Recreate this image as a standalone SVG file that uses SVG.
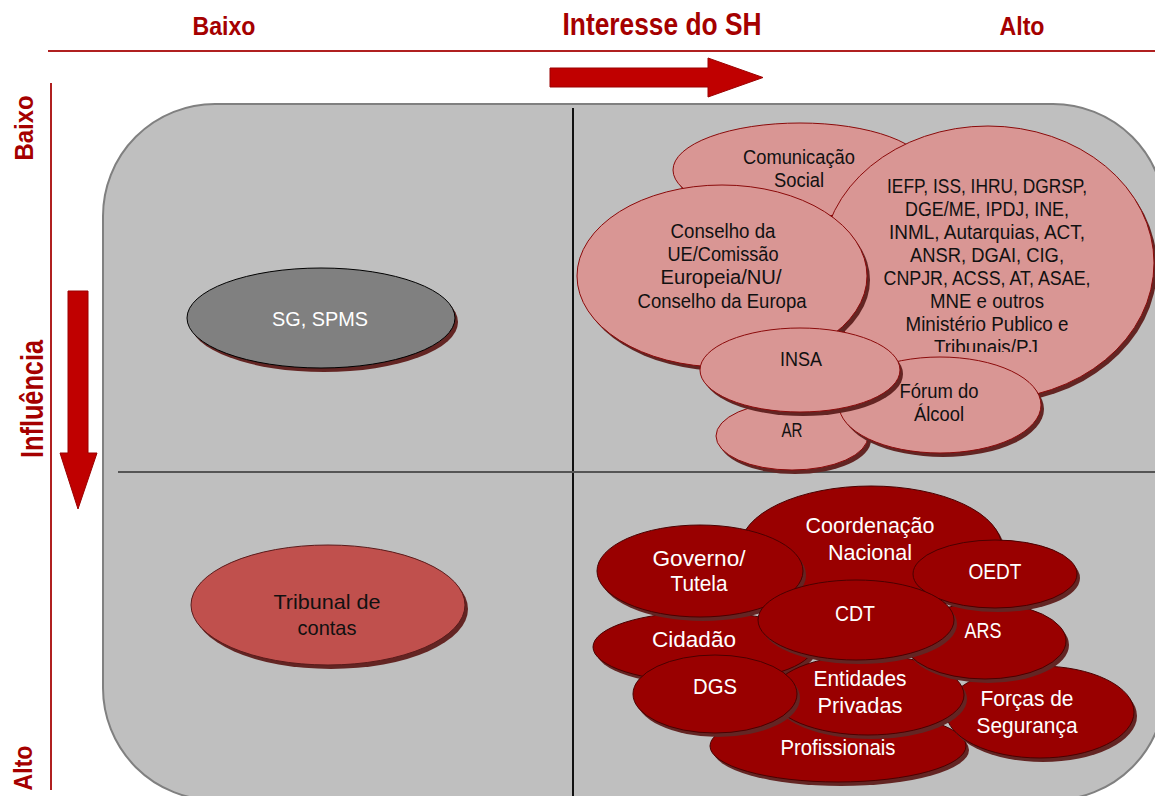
<svg xmlns="http://www.w3.org/2000/svg" width="1155" height="796" viewBox="0 0 1155 796">
  <style>
    text { font-family: "Liberation Sans", Arial, sans-serif; }
    .hdr { fill: #A50000; font-weight: bold; }
    .axis { stroke: #B02020; stroke-width: 2; fill: none; }
    .big-arrow { fill: #C00000; stroke: #9B0000; stroke-width: 1; }
    .sh { fill: #632523; }
    .pk { fill: #D99694; stroke: #8B0A0A; stroke-width: 1; }
    .dk { fill: #990000; stroke: #4A0000; stroke-width: 1; }
    .tb { fill: #C0504D; stroke: #5A1A1A; stroke-width: 1; }
    .gr { fill: #808080; stroke: #000; stroke-width: 1; }
    .tk { fill: #111; font-size: 20.5px; text-anchor: middle; }
    .tw { fill: #fff; font-size: 22.5px; text-anchor: middle; }
  </style>
  <defs>
    <clipPath id="iefpClip">
      <rect x="820" y="120" width="340" height="232"/>
    </clipPath>
  </defs>

  <!-- header and axis labels -->
  <g id="header">
    <text class="hdr" x="224" y="35" font-size="25" text-anchor="middle" textLength="63" lengthAdjust="spacingAndGlyphs">Baixo</text>
    <text class="hdr" x="662" y="35" font-size="31" text-anchor="middle" textLength="199" lengthAdjust="spacingAndGlyphs">Interesse do SH</text>
    <text class="hdr" x="1022" y="35" font-size="25" text-anchor="middle" textLength="45" lengthAdjust="spacingAndGlyphs">Alto</text>
    <text class="hdr" transform="translate(33,128) rotate(-90)" font-size="25" text-anchor="middle" textLength="65" lengthAdjust="spacingAndGlyphs">Baixo</text>
    <text class="hdr" transform="translate(43,399) rotate(-90)" font-size="31" text-anchor="middle" textLength="118" lengthAdjust="spacingAndGlyphs">Influência</text>
    <text class="hdr" transform="translate(32,768) rotate(-90)" font-size="25" text-anchor="middle" textLength="45" lengthAdjust="spacingAndGlyphs">Alto</text>
  </g>

  <!-- background panel -->
  <path id="panel" d="M103,216 A112,112 0 0 1 215,104 H1053 A112,112 0 0 1 1165,216 V688 A112,112 0 0 1 1053,800 H215 A112,112 0 0 1 103,688 Z" fill="#BFBFBF" stroke="#808080" stroke-width="2"/>

  <!-- axes, quadrant dividers and direction arrows -->
  <g id="connectors">
    <line class="axis" x1="48" y1="51" x2="1155" y2="51"/>
    <line class="axis" x1="51" y1="83" x2="51" y2="790"/>
    <line x1="573" y1="108" x2="573" y2="796" stroke="#111" stroke-width="2"/>
    <line x1="118" y1="472" x2="1155" y2="472" stroke="#555" stroke-width="2"/>
    <path class="big-arrow" d="M550,68 H708 V58 L763,77.5 L708,97 V87 H550 Z"/>
    <path class="big-arrow" d="M68,291 H88 V453 H97 L78,509 L60,453 H68 Z"/>
  </g>

  <!-- low interest / low influence -->
  <g id="sg-spms">
    <ellipse class="sh" cx="324" cy="322" rx="134" ry="50"/>
    <ellipse class="gr" cx="321" cy="318" rx="134" ry="50"/>
    <text x="320" y="326" fill="#fff" font-size="21" text-anchor="middle" textLength="96" lengthAdjust="spacingAndGlyphs">SG, SPMS</text>
  </g>

  <!-- low interest / high influence -->
  <g id="tribunal-contas">
    <ellipse class="sh" cx="331" cy="609" rx="137" ry="60"/>
    <ellipse class="tb" cx="328" cy="605" rx="137" ry="60"/>
    <text x="327" y="609" fill="#111" font-size="21" text-anchor="middle" textLength="107" lengthAdjust="spacingAndGlyphs">Tribunal de</text>
    <text x="327" y="635" fill="#111" font-size="21" text-anchor="middle" textLength="59" lengthAdjust="spacingAndGlyphs">contas</text>
  </g>

  <!-- high interest / low influence -->
  <g id="comunicacao-social">
    <ellipse class="sh" cx="803" cy="174" rx="127" ry="47"/>
    <ellipse class="pk" cx="800" cy="170" rx="127" ry="47"/>
    <text class="tk" x="799" y="164" textLength="112" lengthAdjust="spacingAndGlyphs">Comunicação</text>
    <text class="tk" x="799" y="187" textLength="50" lengthAdjust="spacingAndGlyphs">Social</text>
  </g>
  <g id="entidades-publicas">
    <ellipse class="sh" cx="991" cy="267" rx="166" ry="137"/>
    <ellipse class="pk" cx="988" cy="263" rx="166" ry="137"/>
    <g clip-path="url(#iefpClip)">
      <text class="tk" x="987" y="193" textLength="200" lengthAdjust="spacingAndGlyphs">IEFP, ISS, IHRU, DGRSP,</text>
      <text class="tk" x="987" y="216" textLength="164" lengthAdjust="spacingAndGlyphs">DGE/ME, IPDJ, INE,</text>
      <text class="tk" x="987" y="239" textLength="196" lengthAdjust="spacingAndGlyphs">INML, Autarquias, ACT,</text>
      <text class="tk" x="987" y="262" textLength="154" lengthAdjust="spacingAndGlyphs">ANSR, DGAI, CIG,</text>
      <text class="tk" x="987" y="285" textLength="207" lengthAdjust="spacingAndGlyphs">CNPJR, ACSS, AT, ASAE,</text>
      <text class="tk" x="987" y="308" textLength="114" lengthAdjust="spacingAndGlyphs">MNE e outros</text>
      <text class="tk" x="987" y="331" textLength="163" lengthAdjust="spacingAndGlyphs">Ministério Publico e</text>
      <text class="tk" x="986" y="354" textLength="104" lengthAdjust="spacingAndGlyphs">Tribunais/PJ</text>
    </g>
  </g>
  <g id="conselho-ue">
    <ellipse class="sh" cx="725" cy="280" rx="145" ry="91"/>
    <ellipse class="pk" cx="722" cy="276" rx="145" ry="91"/>
    <text class="tk" x="723" y="238" textLength="105" lengthAdjust="spacingAndGlyphs">Conselho da</text>
    <text class="tk" x="723" y="261" textLength="111" lengthAdjust="spacingAndGlyphs">UE/Comissão</text>
    <text class="tk" x="721" y="284" textLength="121" lengthAdjust="spacingAndGlyphs">Europeia/NU/</text>
    <text class="tk" x="722" y="308" textLength="169" lengthAdjust="spacingAndGlyphs">Conselho da Europa</text>
  </g>
  <g id="ar">
    <ellipse class="sh" cx="795" cy="440" rx="76" ry="34"/>
    <ellipse class="pk" cx="792" cy="436" rx="76" ry="34"/>
    <text class="tk" x="792" y="437" textLength="21" lengthAdjust="spacingAndGlyphs">AR</text>
  </g>
  <g id="forum-alcool">
    <ellipse class="sh" cx="943" cy="409" rx="101" ry="48"/>
    <ellipse class="pk" cx="940" cy="405" rx="101" ry="48"/>
    <text class="tk" x="939" y="398" textLength="79" lengthAdjust="spacingAndGlyphs">Fórum do</text>
    <text class="tk" x="939" y="421" textLength="50" lengthAdjust="spacingAndGlyphs">Álcool</text>
  </g>
  <g id="insa">
    <ellipse class="sh" cx="803" cy="374" rx="100" ry="42"/>
    <ellipse class="pk" cx="800" cy="370" rx="100" ry="42"/>
    <text class="tk" x="801" y="366" textLength="42" lengthAdjust="spacingAndGlyphs">INSA</text>
  </g>

  <!-- high interest / high influence -->
  <g id="profissionais">
    <ellipse class="sh" cx="841" cy="750" rx="128" ry="36"/>
    <ellipse class="dk" cx="838" cy="746" rx="128" ry="36"/>
    <text class="tw" x="838" y="755" textLength="115" lengthAdjust="spacingAndGlyphs">Profissionais</text>
  </g>
  <g id="forcas-seguranca">
    <ellipse class="sh" cx="1043" cy="716" rx="94" ry="46"/>
    <ellipse class="dk" cx="1040" cy="712" rx="94" ry="46"/>
    <text class="tw" x="1027" y="706" textLength="93" lengthAdjust="spacingAndGlyphs">Forças de</text>
    <text class="tw" x="1027" y="733" textLength="101" lengthAdjust="spacingAndGlyphs">Segurança</text>
  </g>
  <g id="cidadao">
    <ellipse class="sh" cx="706" cy="651" rx="110" ry="35"/>
    <ellipse class="dk" cx="703" cy="647" rx="110" ry="35"/>
    <text class="tw" x="694" y="647" textLength="84" lengthAdjust="spacingAndGlyphs">Cidadão</text>
  </g>
  <g id="coordenacao-nacional">
    <ellipse class="sh" cx="874" cy="552" rx="131" ry="62"/>
    <ellipse class="dk" cx="871" cy="548" rx="131" ry="62"/>
    <text class="tw" x="870" y="533" textLength="129" lengthAdjust="spacingAndGlyphs">Coordenação</text>
    <text class="tw" x="870" y="560" textLength="84" lengthAdjust="spacingAndGlyphs">Nacional</text>
  </g>
  <g id="governo-tutela">
    <ellipse class="sh" cx="703" cy="575" rx="103" ry="46"/>
    <ellipse class="dk" cx="700" cy="571" rx="103" ry="46"/>
    <text class="tw" x="699" y="566" textLength="93" lengthAdjust="spacingAndGlyphs">Governo/</text>
    <text class="tw" x="699" y="591" textLength="57" lengthAdjust="spacingAndGlyphs">Tutela</text>
  </g>
  <g id="entidades-privadas">
    <ellipse class="sh" cx="871" cy="699" rx="96" ry="40"/>
    <ellipse class="dk" cx="868" cy="695" rx="96" ry="40"/>
    <text class="tw" x="860" y="686" textLength="93" lengthAdjust="spacingAndGlyphs">Entidades</text>
    <text class="tw" x="860" y="713" textLength="85" lengthAdjust="spacingAndGlyphs">Privadas</text>
  </g>
  <g id="ars">
    <ellipse class="sh" cx="988" cy="645" rx="81" ry="38"/>
    <ellipse class="dk" cx="985" cy="641" rx="81" ry="38"/>
    <text class="tw" x="983" y="638" textLength="37" lengthAdjust="spacingAndGlyphs">ARS</text>
  </g>
  <g id="oedt">
    <ellipse class="sh" cx="998" cy="578" rx="82" ry="34"/>
    <ellipse class="dk" cx="995" cy="574" rx="82" ry="34"/>
    <text class="tw" x="995" y="579" textLength="53" lengthAdjust="spacingAndGlyphs">OEDT</text>
  </g>
  <g id="cdt">
    <ellipse class="sh" cx="859" cy="624" rx="98" ry="40"/>
    <ellipse class="dk" cx="856" cy="620" rx="98" ry="40"/>
    <text class="tw" x="855" y="621" textLength="40" lengthAdjust="spacingAndGlyphs">CDT</text>
  </g>
  <g id="dgs">
    <ellipse class="sh" cx="718" cy="698" rx="82" ry="39"/>
    <ellipse class="dk" cx="715" cy="694" rx="82" ry="39"/>
    <text class="tw" x="715" y="694" textLength="44" lengthAdjust="spacingAndGlyphs">DGS</text>
  </g>
</svg>
